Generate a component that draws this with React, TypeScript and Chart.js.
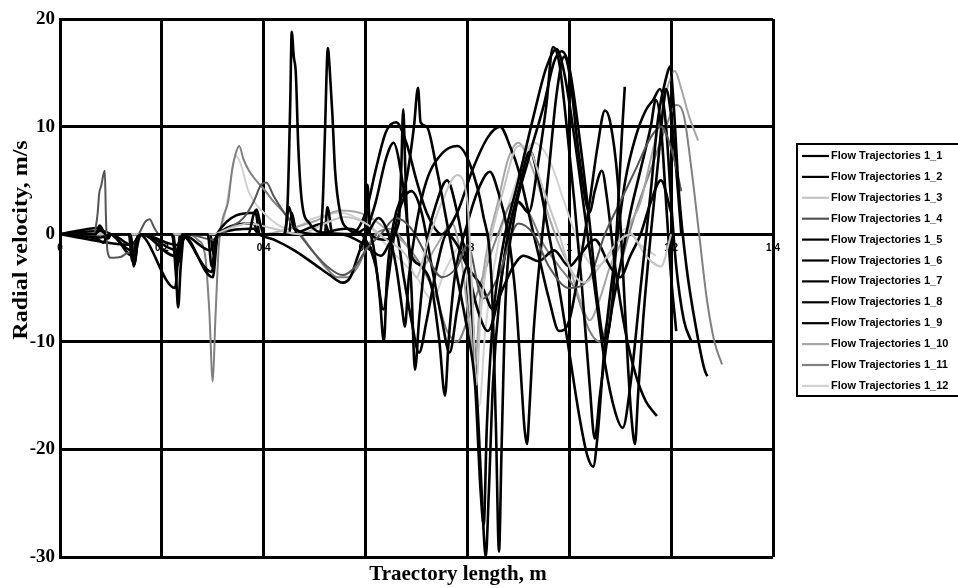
import { useEffect, useRef } from "react";
import { Chart, registerables } from "chart.js";

Chart.register(...registerables);

type Pt = [number, number];

const X_TITLE = "Traectory length, m";
const Y_TITLE = "Radial velocity, m/s";
const xTickValues = [0, 0.2, 0.4, 0.6, 0.8, 1, 1.2, 1.4];
const yTickValues = [-30, -20, -10, 0, 10, 20];

const seriesNames = [
  "Flow Trajectories 1_1",
  "Flow Trajectories 1_2",
  "Flow Trajectories 1_3",
  "Flow Trajectories 1_4",
  "Flow Trajectories 1_5",
  "Flow Trajectories 1_6",
  "Flow Trajectories 1_7",
  "Flow Trajectories 1_8",
  "Flow Trajectories 1_9",
  "Flow Trajectories 1_10",
  "Flow Trajectories 1_11",
  "Flow Trajectories 1_12",
];

const seriesColors = [
  "#000000", "#000000", "#c4c4c4", "#555555", "#000000", "#000000",
  "#000000", "#000000", "#000000", "#a6a6a6", "#808080", "#d2d2d2",
];

const traj1_1: Pt[] = [
  [0,0],[0.07,0],[0.078,0.8],[0.085,0.3],[0.095,-0.4],[0.1,0],[0.135,0],[0.142,-2.5],[0.15,-0.5],[0.16,0],
  [0.22,0],[0.228,-4],[0.232,-6.8],[0.237,-3],[0.245,0],[0.29,0],[0.298,-3],[0.305,-1],[0.31,0],[0.37,0],
  [0.38,1.8],[0.386,2.3],[0.393,1],[0.4,0],[0.44,0],[0.447,3],[0.452,12],[0.455,18.8],[0.459,16.5],[0.463,15],
  [0.468,8],[0.475,3],[0.49,1],[0.51,0.2],[0.58,0],[0.6,0.5],[0.615,-1],[0.628,-6],[0.636,-10],[0.642,-4],
  [0.655,1],[0.68,5],[0.695,10],[0.703,13.6],[0.708,10.4],[0.72,10],[0.74,6],[0.76,1],[0.78,-4],[0.8,-9],
  [0.815,-14],[0.826,-24],[0.832,-27],[0.838,-18],[0.85,-8],[0.87,-1],[0.9,5],[0.93,11],[0.955,15.5],[0.975,17.2],
  [0.99,15],[1.01,9],[1.03,2],[1.05,-5],[1.07,-12],[1.09,-16.5],[1.105,-18],[1.12,-14],[1.14,-5],[1.16,4],
  [1.175,11],[1.19,14.5],[1.198,15.6],[1.205,12],[1.215,4],[1.23,-3],[1.25,-9],[1.265,-12.5],[1.271,-13.2],
];

const traj1_2: Pt[] = [
  [0,0],[0.075,-0.5],[0.085,-0.8],[0.095,0],[0.138,0],[0.145,-3],[0.152,-1],[0.16,0],[0.22,0],[0.228,-2],
  [0.235,-2.5],[0.24,0],[0.295,-1.5],[0.31,0],[0.44,0],[0.45,2.5],[0.46,0.5],[0.51,0],[0.516,3],[0.52,9],
  [0.526,17.3],[0.53,15],[0.535,11],[0.54,6],[0.55,2],[0.565,0.5],[0.6,0],[0.625,1.5],[0.645,0],[0.66,-3],
  [0.672,-7],[0.677,-8.6],[0.685,-4],[0.7,1],[0.72,5],[0.75,7.5],[0.78,8.2],[0.805,6.5],[0.83,2],[0.848,-5],
  [0.856,-18],[0.862,-29.5],[0.867,-20],[0.875,-6],[0.89,1],[0.92,7],[0.95,12],[0.97,16],[0.985,17],[1.0,15.5],
  [1.02,9],[1.04,1],[1.055,-6],[1.07,-10],[1.085,-6],[1.095,2],[1.103,9],[1.109,13.7],
];

const traj1_3: Pt[] = [
  [0,0],[0.3,0],[0.33,0.5],[0.37,1],[0.42,0.5],[0.47,0],[0.52,1],[0.56,1.6],[0.6,1],[0.64,-0.5],
  [0.68,-2],[0.7,-4],[0.72,-1],[0.75,3],[0.78,5.5],[0.8,3],[0.81,-6],[0.818,-14],[0.825,-8],[0.84,-2],
  [0.87,4],[0.9,8.2],[0.92,8],[0.95,4],[0.98,0],[1.0,-3],[1.03,-4.5],[1.06,-3],[1.09,-1],[1.12,0],
  [1.15,-2],[1.18,-3],[1.2,0],
];

const traj1_4: Pt[] = [
  [0,0],[0.065,0],[0.07,0.6],[0.074,2],[0.077,3.8],[0.081,4.5],[0.085,5.5],[0.088,5.9],[0.09,2],[0.093,-1.5],
  [0.1,-2.2],[0.12,-2.1],[0.13,-1.8],[0.14,-1.6],[0.15,-0.5],[0.16,0.5],[0.168,1.2],[0.176,1.4],[0.185,0.6],[0.195,0],
  [0.25,0],[0.3,-0.5],[0.33,0.5],[0.36,1.5],[0.38,3],[0.395,4.6],[0.405,4.8],[0.42,3.5],[0.44,2],[0.47,0],
  [0.5,-1.8],[0.53,-3.2],[0.555,-3.8],[0.58,-3],[0.6,-1.5],[0.63,0],[0.66,1.5],[0.69,0.5],[0.72,-2],[0.75,-4],
  [0.78,-3],[0.8,-1],[0.83,-6],[0.86,-4],[0.9,1],[0.93,0],[0.96,-3],[1.0,-5],[1.04,-4],[1.07,0],
  [1.1,3],[1.13,6],[1.16,9],[1.18,10],[1.2,8],[1.22,4],
];

const traj1_5: Pt[] = [
  [0,0],[0.07,0],[0.08,0.5],[0.09,0],[0.138,0],[0.146,-2.8],[0.155,0],[0.222,0],[0.23,-3],[0.238,-1],
  [0.245,0],[0.295,0],[0.302,-2],[0.31,0],[0.38,0.5],[0.39,0],[0.42,-0.5],[0.46,-1.5],[0.5,-2.8],[0.53,-3.8],
  [0.555,-4.5],[0.57,-4],[0.585,-2],[0.6,0],[0.62,3],[0.64,7],[0.655,8.5],[0.665,7],[0.68,2],[0.69,-5],
  [0.697,-12.6],[0.705,-8],[0.72,-1],[0.74,3],[0.76,5],[0.78,2],[0.8,-3],[0.82,-7],[0.84,-9],[0.86,-6],
  [0.88,0],[0.9,4],[0.923,7.7],[0.94,5],[0.96,0],[0.98,-5],[1.0,-11],[1.02,-17],[1.035,-20.5],[1.047,-21.6],
  [1.055,-19],[1.07,-10],[1.09,-2],[1.11,5],[1.13,9],[1.15,11.5],[1.165,12.5],[1.178,13.5],[1.19,10],[1.2,3],
  [1.21,-3],[1.225,-8],[1.24,-10],
];

const traj1_6: Pt[] = [
  [0,0],[0.08,-0.3],[0.1,0],[0.14,-1],[0.16,0],[0.23,-1.5],[0.25,0],[0.45,0],[0.455,2],[0.465,0],
  [0.52,0],[0.525,2.5],[0.535,0],[0.6,0],[0.604,4.6],[0.609,0],[0.64,-0.5],[0.665,1],[0.67,6],[0.674,11.6],
  [0.678,6],[0.683,0],[0.69,-2],[0.71,-3],[0.73,-5],[0.745,-10],[0.756,-15],[0.763,-10],[0.775,-4],[0.8,1],
  [0.82,4],[0.844,5.8],[0.86,4],[0.88,0],[0.895,-6],[0.905,-13],[0.912,-18],[0.917,-19.5],[0.922,-16],[0.93,-9],
  [0.945,-1],[0.96,6],[0.975,13],[0.99,16.5],[1.0,15],[1.02,7],[1.04,2],[1.05,4],[1.064,5.9],[1.075,3],
  [1.09,-3],[1.11,-9],[1.13,-13],[1.15,-15.5],[1.165,-16.5],[1.172,-16.9],
];

const traj1_7: Pt[] = [
  [0,0],[0.08,0.3],[0.1,0],[0.14,-1.5],[0.16,0],[0.225,-2],[0.24,0],[0.3,-4],[0.31,0],[0.38,1],
  [0.39,0],[0.45,0],[0.52,1],[0.53,0],[0.57,0],[0.6,2],[0.62,6],[0.64,9.5],[0.66,10.4],[0.68,8.5],
  [0.7,5],[0.72,2],[0.75,0],[0.78,2],[0.81,6],[0.84,9],[0.864,10],[0.885,8],[0.9,6],[0.92,2],
  [0.94,-2],[0.96,-6],[0.98,-9],[1.0,-8],[1.02,-3],[1.04,3],[1.055,8],[1.07,11.5],[1.08,10.5],[1.095,5],
  [1.105,-3],[1.115,-12],[1.122,-17],[1.129,-19.5],[1.135,-15],[1.145,-8],[1.16,0],[1.175,7],[1.185,12],[1.19,13.5],
  [1.2,11],[1.21,6],[1.22,0],
];

const traj1_8: Pt[] = [
  [0,0],[0.08,0.6],[0.09,-0.5],[0.1,0],[0.142,-2],[0.155,0],[0.226,-5],[0.236,0],[0.298,-3.5],[0.308,0],
  [0.384,2],[0.392,0],[0.5,0],[0.56,0.5],[0.6,-0.5],[0.62,-3],[0.635,-7],[0.645,-4],[0.66,1],[0.69,4],
  [0.71,2],[0.73,-3],[0.75,-8],[0.765,-11],[0.78,-7],[0.8,-3],[0.81,-8],[0.822,-18],[0.83,-26],[0.836,-30],
  [0.842,-24],[0.85,-14],[0.865,-5],[0.88,0],[0.9,3],[0.92,2],[0.94,7],[0.955,12],[0.968,17.4],[0.98,16],
  [0.995,10],[1.01,3],[1.025,-5],[1.04,-14],[1.05,-19],[1.06,-15],[1.08,-8],[1.1,-3],[1.12,2],[1.14,6],
  [1.16,10],[1.17,12.5],[1.18,10],[1.19,3],[1.2,-4],[1.21,-9],
];

const traj1_9: Pt[] = [
  [0,0],[0.14,-1],[0.16,0],[0.23,-1],[0.25,0],[0.55,0],[0.6,-1],[0.63,-2],[0.66,0],[0.675,-4],
  [0.69,-8],[0.705,-11],[0.72,-8],[0.74,-3],[0.76,0],[0.78,-1],[0.8,-3],[0.83,-5],[0.85,-7],[0.87,-5],
  [0.89,-3],[0.91,-2],[0.94,-2.5],[0.97,-1.5],[1.0,-3],[1.02,-2],[1.05,-0.5],[1.08,-3],[1.1,-4],[1.12,-2],
  [1.14,0],[1.16,3],[1.18,5],[1.2,2],
];

const traj1_10: Pt[] = [
  [0,0],[0.4,0],[0.45,0.5],[0.5,1.2],[0.55,2.2],[0.6,1.8],[0.64,0.5],[0.68,-1],[0.71,-3],[0.74,-1],
  [0.77,1],[0.79,-3],[0.805,-9],[0.815,-12],[0.825,-6],[0.84,-1],[0.86,3],[0.88,7],[0.9,8.5],[0.92,7],
  [0.95,3],[0.98,-1],[1.0,-3],[1.02,-6],[1.04,-8],[1.06,-6],[1.08,-3],[1.1,-1],[1.12,1],[1.14,3],
  [1.16,7],[1.18,11],[1.195,14],[1.207,15.2],[1.22,13.5],[1.235,11],[1.253,8.7],
];

const traj1_11: Pt[] = [
  [0,0],[0.25,0],[0.27,-0.5],[0.285,-2],[0.293,-7],[0.3,-13.7],[0.305,-8],[0.312,-1],[0.32,1.5],[0.33,3],
  [0.338,6],[0.345,7.5],[0.352,8.2],[0.36,7],[0.37,6],[0.385,5],[0.4,4.2],[0.42,3],[0.44,2],[0.46,0.8],
  [0.48,-0.5],[0.5,-1.8],[0.52,-3],[0.545,-4],[0.565,-4],[0.585,-3],[0.6,-1.5],[0.62,0],[0.65,0.5],[0.68,-1],
  [0.71,-3],[0.74,-6],[0.76,-9],[0.78,-10],[0.8,-8],[0.83,-4],[0.86,0],[0.89,3],[0.92,2],[0.95,-1],
  [0.98,-3],[1.01,-5],[1.04,-9],[1.06,-10],[1.08,-7],[1.1,-3],[1.13,2],[1.16,6],[1.19,10],[1.21,12],
  [1.225,11],[1.24,6],[1.255,0],[1.27,-6],[1.285,-10],[1.3,-12.1],
];

const traj1_12: Pt[] = [
  [0,0],[0.3,0],[0.32,1],[0.335,5],[0.345,7.3],[0.355,6.5],[0.37,4],[0.4,2],[0.45,0.5],[0.5,1.5],
  [0.55,2],[0.6,1],[0.65,-1.5],[0.7,-4],[0.73,-6],[0.76,-3],[0.79,-1],[0.81,-10],[0.823,-16],[0.835,-9],
  [0.86,-1],[0.89,4],[0.93,8.5],[0.96,7],[0.99,3],[1.02,-1],[1.05,-3],[1.08,-2],[1.11,0.5],[1.14,-1],
  [1.17,-2],
];

const allSeries: Pt[][] = [
  traj1_1, traj1_2, traj1_3, traj1_4, traj1_5, traj1_6,
  traj1_7, traj1_8, traj1_9, traj1_10, traj1_11, traj1_12,
];

const overlayPlugin = {
  id: "overlayTexts",
  afterDraw(chart: any) {
    const ctx: CanvasRenderingContext2D = chart.ctx;
    ctx.save();
    ctx.fillStyle = "#000";
    ctx.textAlign = "center";
    ctx.textBaseline = "middle";
    ctx.font = 'bold 21px "Liberation Serif", "Times New Roman", serif';
    ctx.fillText(X_TITLE, 458, 575);
    ctx.save();
    ctx.translate(22, 240);
    ctx.scale(1, 1.2);
    ctx.rotate(-Math.PI / 2);
    ctx.font = 'bold 20px "Liberation Serif", "Times New Roman", serif';
    ctx.fillText(Y_TITLE, 0, 0);
    ctx.restore();

    // legend box
    const bx = 797, by = 144, bh = 252;
    ctx.fillStyle = "#fff";
    ctx.fillRect(bx, by, 200, bh);
    ctx.strokeStyle = "#000";
    ctx.lineWidth = 2;
    ctx.strokeRect(bx, by, 200, bh);
    ctx.font = 'bold 11px "Liberation Sans", Arial, sans-serif';
    ctx.textAlign = "left";
    ctx.textBaseline = "middle";
    seriesNames.forEach((name, i) => {
      const y = 156 + i * 20.9;
      ctx.strokeStyle = seriesColors[i];
      ctx.lineWidth = 2.2;
      ctx.beginPath();
      ctx.moveTo(802, y);
      ctx.lineTo(829, y);
      ctx.stroke();
      ctx.fillStyle = "#000";
      ctx.fillText(name, 831, y);
    });
    ctx.restore();
  },
};

export default function App() {
  const ref = useRef<HTMLCanvasElement | null>(null);

  useEffect(() => {
    if (!ref.current) return;
    const datasets = allSeries.map((s, i) => ({
      label: seriesNames[i],
      data: s.map(([x, y]) => ({ x, y })),
      borderColor: seriesColors[i],
      backgroundColor: seriesColors[i],
      borderWidth: seriesColors[i] === "#000000" ? 2.6 : 2,
      showLine: true,
      pointRadius: 0,
      cubicInterpolationMode: "monotone",
      fill: false,
    }));

    const chart = new Chart(ref.current, {
      type: "scatter",
      data: { datasets },
      plugins: [overlayPlugin],
      options: {
        responsive: false,
        animation: false,
        devicePixelRatio: 1,
        layout: { padding: { left: 0, top: 19, right: 185, bottom: 31 } },
        plugins: {
          legend: { display: false },
          tooltip: { enabled: false },
          title: { display: false },
        },
        scales: {
          x: {
            type: "linear",
            position: { y: 0 } as any,
            min: 0,
            max: 1.4,
            afterBuildTicks: (scale: any) => {
              scale.ticks = xTickValues.map((v) => ({ value: v }));
            },
            ticks: {
              color: "#000",
              font: { family: '"Liberation Sans", Arial, sans-serif', weight: "bold", size: 10 },
              padding: 8,
              maxRotation: 0,
              autoSkip: false,
              callback: (v: any) => String(Number(Number(v).toFixed(1))),
            },
            grid: { color: "#000", lineWidth: 3, drawTicks: false },
            border: { display: true, color: "#000", width: 3 },
          },
          y: {
            type: "linear",
            min: -30,
            max: 20,
            afterBuildTicks: (scale: any) => {
              scale.ticks = yTickValues.map((v) => ({ value: v }));
            },
            afterFit: (scale: any) => {
              scale.width = 60;
            },
            ticks: {
              color: "#000",
              font: { family: '"Liberation Serif", "Times New Roman", serif', weight: "bold", size: 19 },
              padding: 5,
              autoSkip: false,
            },
            grid: { color: "#000", lineWidth: 3, drawTicks: false },
            border: { display: true, color: "#000", width: 3 },
          },
        },
      } as any,
    });
    return () => chart.destroy();
  }, []);

  return (
    <div style={{ position: "absolute", left: 0, top: 0, width: 958, height: 588, background: "#fff" }}>
      <canvas ref={ref} width={958} height={588} style={{ width: 958, height: 588, display: "block" }} />
    </div>
  );
}
